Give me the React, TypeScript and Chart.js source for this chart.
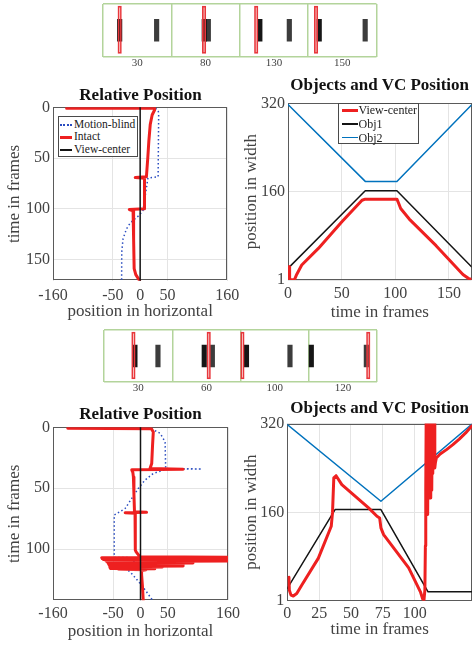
import React, { useEffect, useRef } from 'react';
import { Chart, registerables } from 'chart.js';

Chart.register(...registerables);

const SERIF = '"Liberation Serif", "Times New Roman", Times, serif';
Chart.defaults.font.family = SERIF;

const TXT = '#424242';
const GRID = '#e4e4e4';
const BOX = '#5a5a5a';
const RED = '#ee2020';
const BLUE_DOT = '#2a4cc0';
const OBJ2_BLUE = '#0072bd';
const BLACK = '#141414';
const GREEN = '#b3d49b';

// ================= DATA =================
// Frame strips: object positions (0..320 within each frame)
const FRAME_WIDTH = 320;
const stripTopLabels = ['30', '80', '130', '150'];
const stripTopViewCenter = [78, 153, 77, 37];
const stripTopObj1 = [78, 154, 94, 52];
const stripTopObj2 = [251, 173, 232, 267];
const stripBottomLabels = ['30', '60', '100', '120'];
const stripBottomViewCenter = [138, 171, 9, 279];
const stripBottomObj1 = [145, 150, 28, 12];
const stripBottomObj2 = [253, 188, 232, 270];

// Shared ticks
const relTicksX = [-160, -50, 0, 50, 160];
const relTicksT = [0, 50, 100, 150];
const posTicksW = [1, 160, 320];
const pos1TicksT = [0, 50, 100, 150];
const pos2TicksT = [0, 25, 50, 75, 100];

// Sequence 1: relative position (x: position in horizontal, t: time in frames)
const rel1IntactT = [1, 1, 2.7, 7.6, 17, 33, 50, 68.5, 69.3, 70, 100, 100.8, 102, 130, 159, 165, 171];
const rel1IntactX = [-135, 26, 26.5, 22, 18.5, 16, 14, 11.5, -9, 8, 8, -20, -13, -12, -11, -8, -1];
const rel1BlindT = [1, 3, 6, 68.5, 69.7, 85, 101.7, 106.6, 111.5, 114.8, 119.8, 129.6, 142.7, 171];
const rel1BlindX = [28, 33, 34, 33, 14.3, 10, 5.2, -2, -13, -19, -25, -31.4, -33.8, -34];
const rel1CenterT = [0, 171];
const rel1CenterX = [0, 0];

// Sequence 1: objects and view-center positions
const pos1VCT = [1, 1.5, 5.9, 8.1, 12.8, 28.3, 50.2, 69, 72, 101.5, 103, 105, 113, 138, 163, 168, 171];
const pos1VCW = [25, 2, 1, 11, 28, 58, 106, 145, 147, 147, 140, 130, 111, 63, 11, 4, 2];
const pos1Obj1T = [0, 72, 101.5, 171];
const pos1Obj1W = [22, 162, 162, 25];
const pos1Obj2T = [0, 72, 101.5, 171];
const pos1Obj2W = [318, 179, 179, 317];

// Sequence 2: relative position
const rel2IntactT = [0.8, 1.1, 3.8, 15, 29.8, 33.9, 34.4, 34.9, 37, 40.7, 55, 69.4, 69.8, 70.2, 70.6, 85, 100.8, 102.2, 106.3,
  106.6, 107.0, 107.4, 107.8, 108.2, 108.6, 109.0, 109.4, 109.8, 110.2, 110.6, 111.0, 111.4, 111.8, 112.2, 112.6, 113.0,
  113.4, 113.8, 114.2, 114.6, 115.0, 115.4, 115.8, 116.2, 116.6, 117.0, 117.6, 121, 130, 142];
const rel2IntactX = [-133, 20, 23.4, 22, 20.5, 17.4, 78, -16, -14, -13, -12, -11, 11, -28, -10, -10, -9, -8, -1,
  165, -71, 165, -70, 165, -68, 165, -64, 165, -62, 96, -60, 96, -59, 78, -58, 78,
  -57, 78, -56, 40, -56, 26, -55, 26, -40, 10, 2, 2, 3.5, 5];
const rel2BlindT = [1.1, 5, 12, 33.9, 34.2, 34.5, 38, 43.4, 50.2, 58.4, 66.6, 70.7, 72, 106.8, 107.1, 112, 116, 118.6, 128, 135, 142];
const rel2BlindX = [20, 36, 45, 46, 112, 46, 23, 8, -4, -16, -28, -43, -48, -48, -1, -20, -28, -19, -1, 11, 22];
const rel2CenterT = [0, 142];
const rel2CenterX = [0, 0];

// Sequence 2: objects and view-center positions
const pos2VCT = [1.3, 1.6, 2.9, 4.7, 7.4, 11.3, 24.4, 34.5, 35.5, 36.5, 38.3, 42.8, 63.8, 70.4, 72.5, 73.5, 75.6, 95.3, 104.5, 106.3,
  107.3, 108, 108.4, 108.7, 109.0, 109.4, 109.8, 110.2, 110.6, 111.0, 111.4, 111.8, 112.2, 112.6, 113.0,
  113.4, 113.8, 114.2, 114.6, 115.0, 115.4, 115.8, 116.3, 117, 120, 125, 130, 135, 140, 145];
const pos2VCW = [43, 20, 11, 9.5, 14, 29, 77.6, 135, 160, 222, 226, 210, 168, 153, 150, 132, 120, 60, 17, 4,
  2, 20, 100, 200, 320, 156, 320, 156, 320, 190, 320, 186, 320, 186, 320,
  200, 320, 230, 320, 240, 320, 240, 250, 258, 265, 273, 282, 292, 303, 316];
const pos2Obj1T = [0, 37.5, 73.5, 110.5, 145];
const pos2Obj1W = [23, 165, 165, 17, 17];
const pos2Obj2T = [0, 73.5, 145];
const pos2Obj2W = [318, 180, 319];

// ================= HELPERS =================
type Pt = { x: number; y: number };
const zip = (xs: number[], ys: number[]): Pt[] => xs.map((x, i) => ({ x, y: ys[i] }));

const boxPlugin = {
  id: 'axesBox',
  beforeDatasetsDraw(chart: any) {
    const { ctx, chartArea: a } = chart;
    ctx.save();
    ctx.strokeStyle = BOX;
    ctx.lineWidth = 1;
    ctx.strokeRect(Math.round(a.left) + 0.5, Math.round(a.top) + 0.5, Math.round(a.right - a.left) - 1, Math.round(a.bottom - a.top) - 1);
    ctx.restore();
  },
};

const line = (data: Pt[], color: string, width: number, order: number, dash: number[] = []) => ({
  data,
  borderColor: color,
  backgroundColor: color,
  borderWidth: width,
  borderDash: dash,
  borderCapStyle: dash.length ? 'butt' : 'round',
  borderJoinStyle: 'round',
  showLine: true,
  pointRadius: 0,
  pointHoverRadius: 0,
  tension: 0,
  fill: false,
  order,
  clip: 0,
});

interface MainOpts {
  datasets: any[];
  xMin: number; xMax: number; xTicks: number[];
  yMin: number; yMax: number; yTicks: number[];
  reverseY: boolean;
  xTitle: string; yTitle: string;
  padTop: number; padRight: number;
  yWidth: number; xHeight: number;
  xTickPad: number; xTitlePad: number; yTitlePad: number;
}

function makeMainConfig(o: MainOpts): any {
  const tickFont = { family: SERIF, size: 16, lineHeight: 1.2 };
  const titleFont = { family: SERIF, size: 17, lineHeight: 1.2 };
  return {
    type: 'scatter',
    data: { datasets: o.datasets },
    options: {
      animation: false,
      responsive: false,
      maintainAspectRatio: false,
      events: [],
      layout: { padding: { left: 0, top: o.padTop, right: o.padRight, bottom: 0 } },
      plugins: { legend: { display: false }, tooltip: { enabled: false }, title: { display: false } },
      scales: {
        x: {
          type: 'linear', position: 'bottom', min: o.xMin, max: o.xMax,
          afterBuildTicks: (s: any) => { s.ticks = o.xTicks.map((value) => ({ value })); },
          afterFit: (s: any) => { s.height = o.xHeight; },
          ticks: { autoSkip: false, maxRotation: 0, padding: o.xTickPad, color: TXT, font: tickFont, callback: (v: any) => String(v) },
          grid: { color: GRID, lineWidth: 1, drawTicks: false },
          border: { display: false },
          title: { display: true, text: o.xTitle, color: TXT, font: titleFont, padding: { top: 0, bottom: o.xTitlePad } },
        },
        y: {
          type: 'linear', position: 'left', min: o.yMin, max: o.yMax, reverse: o.reverseY,
          afterBuildTicks: (s: any) => { s.ticks = o.yTicks.map((value) => ({ value })); },
          afterFit: (s: any) => { s.width = o.yWidth; },
          ticks: { autoSkip: false, padding: 3, color: TXT, font: tickFont, callback: (v: any) => String(v) },
          grid: { color: GRID, lineWidth: 1, drawTicks: false },
          border: { display: false },
          title: { display: true, text: o.yTitle, color: TXT, font: titleFont, padding: { top: o.yTitlePad, bottom: 0 } },
        },
      },
    },
    plugins: [boxPlugin],
  };
}

function makeStripConfig(labels: string[], vc: number[], o1: number[], o2: number[], pad: any): any {
  const frames = labels.length;
  const total = frames * FRAME_WIDTH;
  const place = (arr: number[]) => arr.map((v, i) => i * FRAME_WIDTH + v);
  return {
    type: 'bar',
    data: {
      datasets: [
        { xAxisID: 'x', yAxisID: 'y', data: place(vc).map((x) => ({ x, y: [0.06, 0.96] })), backgroundColor: 'rgba(238,60,60,0.22)', borderColor: '#e8383d', borderWidth: 1, borderSkipped: false, barThickness: 3.5, grouped: false, order: 0 },
        { xAxisID: 'x', yAxisID: 'y', data: place(o1).map((x) => ({ x, y: [0.29, 0.71] })), backgroundColor: '#161616', borderWidth: 0, barThickness: 4.5, grouped: false, order: 1 },
        { xAxisID: 'x', yAxisID: 'y', data: place(o2).map((x) => ({ x, y: [0.29, 0.71] })), backgroundColor: '#3c3c3c', borderWidth: 0, barThickness: 4.5, grouped: false, order: 2 },
      ],
    },
    options: {
      animation: false,
      responsive: false,
      events: [],
      layout: { padding: pad },
      plugins: { legend: { display: false }, tooltip: { enabled: false } },
      scales: {
        x: {
          axis: 'x', type: 'linear', position: 'bottom', min: 0, max: total, offset: false,
          grid: { color: GREEN, lineWidth: 1.5, drawTicks: false, offset: false },
          border: { display: false },
          ticks: { display: false },
          afterBuildTicks: (s: any) => { s.ticks = Array.from({ length: frames + 1 }, (_, i) => ({ value: i * FRAME_WIDTH })); },
          afterFit: (s: any) => { s.height = 0; },
        },
        frameLabel: {
          axis: 'x', type: 'linear', position: 'bottom', min: 0, max: total, offset: false,
          grid: { display: false, drawTicks: false, offset: false },
          border: { display: false },
          ticks: { padding: 0, color: TXT, font: { family: SERIF, size: 11, lineHeight: 1.2 }, autoSkip: false, maxRotation: 0, callback: (_v: any, i: number) => labels[i] },
          afterBuildTicks: (s: any) => { s.ticks = labels.map((_, i) => ({ value: i * FRAME_WIDTH + FRAME_WIDTH / 2 })); },
          afterFit: (s: any) => { s.height = 14; },
        },
        y: {
          type: 'linear', position: 'left', min: 0, max: 1,
          grid: { color: GREEN, lineWidth: 1.5, drawTicks: false },
          border: { display: false },
          ticks: { display: false },
          afterBuildTicks: (s: any) => { s.ticks = [{ value: 0 }, { value: 1 }]; },
          afterFit: (s: any) => { s.width = 0; },
        },
      },
    },
  };
}

function ChartCanvas({ left, top, width, height, makeConfig }: { left: number; top: number; width: number; height: number; makeConfig: () => any }) {
  const ref = useRef<HTMLCanvasElement>(null);
  useEffect(() => {
    const chart = new Chart(ref.current as HTMLCanvasElement, makeConfig());
    return () => chart.destroy();
  }, []);
  return (
    <canvas ref={ref} width={width} height={height}
      style={{ position: 'absolute', left, top, width, height, display: 'block' }} />
  );
}

function Title({ center, top, text }: { center: number; top: number; text: string }) {
  return (
    <div style={{ position: 'absolute', left: center - 150, top, width: 300, textAlign: 'center', font: `bold 17px ${SERIF}`, lineHeight: '20px', color: '#111', whiteSpace: 'nowrap' }}>
      {text}
    </div>
  );
}

interface LegendRow { label: string; top: number; swatch: React.CSSProperties; thickness: number }
function Legend({ left, top, width, height, fontSize, swLeft, swWidth, textLeft, rows }: { left: number; top: number; width: number; height: number; fontSize: number; swLeft: number; swWidth: number; textLeft: number; rows: LegendRow[] }) {
  return (
    <div style={{ position: 'absolute', left, top, width, height, boxSizing: 'border-box', border: '1px solid #4a4a4a', background: '#fff' }}>
      {rows.map((r) => (
        <React.Fragment key={r.label}>
          <div style={{ position: 'absolute', left: swLeft - 1, top: r.top - 1 + 6.6 - r.thickness / 2, width: swWidth, height: r.thickness, ...r.swatch }} />
          <div style={{ position: 'absolute', left: textLeft - 1, top: r.top - 1, height: 13, lineHeight: '13px', font: `${fontSize}px ${SERIF}`, color: '#222', whiteSpace: 'nowrap' }}>{r.label}</div>
        </React.Fragment>
      ))}
    </div>
  );
}

// ================= APP =================
export default function App() {
  const rel1 = () => makeMainConfig({
    datasets: [
      line(zip(rel1CenterX, rel1CenterT), BLACK, 1.5, 0),
      line(zip(rel1IntactX, rel1IntactT), RED, 3, 1),
      line(zip(rel1BlindX, rel1BlindT), BLUE_DOT, 1.5, 2, [1.5, 2.5]),
    ],
    xMin: -160, xMax: 160, xTicks: relTicksX, yMin: 0, yMax: 171, yTicks: relTicksT, reverseY: true,
    xTitle: 'position in horizontal', yTitle: 'time in frames',
    padTop: 29.3, padRight: 17, yWidth: 53, xHeight: 47.3, xTickPad: 5.7, xTitlePad: 6.3, yTitlePad: 4.7,
  });
  const pos1 = () => makeMainConfig({
    datasets: [
      line(zip(pos1VCT, pos1VCW), RED, 3, 0),
      line(zip(pos1Obj1T, pos1Obj1W), BLACK, 1.5, 1),
      line(zip(pos1Obj2T, pos1Obj2W), OBJ2_BLUE, 1.5, 2),
    ],
    xMin: 0, xMax: 171, xTicks: pos1TicksT, yMin: 1, yMax: 320, yTicks: posTicksW, reverseY: false,
    xTitle: 'time in frames', yTitle: 'position in width',
    padTop: 33.3, padRight: 3.5, yWidth: 53, xHeight: 48, xTickPad: 4.4, xTitlePad: 5.1, yTitlePad: 6.3,
  });
  const rel2 = () => makeMainConfig({
    datasets: [
      line(zip(rel2CenterX, rel2CenterT), BLACK, 1.5, 0),
      line(zip(rel2IntactX, rel2IntactT), RED, 3, 1),
      line(zip(rel2BlindX, rel2BlindT), BLUE_DOT, 1.5, 2, [1.5, 2.5]),
    ],
    xMin: -160, xMax: 160, xTicks: relTicksX, yMin: 0, yMax: 142, yTicks: relTicksT.slice(0, 3), reverseY: true,
    xTitle: 'position in horizontal', yTitle: 'time in frames',
    padTop: 32.3, padRight: 17, yWidth: 53, xHeight: 45.7, xTickPad: 3.8, xTitlePad: 4.3, yTitlePad: 4.7,
  });
  const pos2 = () => makeMainConfig({
    datasets: [
      line(zip(pos2VCT, pos2VCW), RED, 3, 0),
      line(zip(pos2Obj1T, pos2Obj1W), BLACK, 1.5, 1),
      line(zip(pos2Obj2T, pos2Obj2W), OBJ2_BLUE, 1.5, 2),
    ],
    xMin: 0, xMax: 145, xTicks: pos2TicksT, yMin: 1, yMax: 320, yTicks: posTicksW, reverseY: false,
    xTitle: 'time in frames', yTitle: 'position in width',
    padTop: 28.5, padRight: 3, yWidth: 52.3, xHeight: 45.3, xTickPad: 3.4, xTitlePad: 5.9, yTitlePad: 6.3,
  });
  const strip1 = () => makeStripConfig(stripTopLabels, stripTopViewCenter, stripTopObj1, stripTopObj2, { left: 3, right: 3.5, top: 4, bottom: 1.5 });
  const strip2 = () => makeStripConfig(stripBottomLabels, stripBottomViewCenter, stripBottomObj1, stripBottomObj2, { left: 4, right: 3, top: 4, bottom: 2 });

  const dotted: React.CSSProperties = { borderTop: `2px dotted ${BLUE_DOT}`, height: 0 };

  return (
    <div style={{ position: 'fixed', left: 0, top: 0, width: 475, height: 646, background: '#fff', overflow: 'hidden' }}>
      <ChartCanvas left={100} top={0} width={280} height={72} makeConfig={strip1} />
      <ChartCanvas left={0} top={78} width={245} height={250} makeConfig={rel1} />
      <ChartCanvas left={235} top={70} width={240} height={258} makeConfig={pos1} />
      <ChartCanvas left={100} top={326} width={280} height={72} makeConfig={strip2} />
      <ChartCanvas left={0} top={395} width={245} height={251} makeConfig={rel2} />
      <ChartCanvas left={235} top={395} width={240} height={251} makeConfig={pos2} />

      <Title center={140.5} top={85} text="Relative Position" />
      <Title center={379.7} top={75} text="Objects and VC Position" />
      <Title center={140.5} top={404} text="Relative Position" />
      <Title center={379.7} top={398} text="Objects and VC Position" />

      <Legend left={58} top={116} width={80} height={41} fontSize={11.5} swLeft={1.5} swWidth={12.5} textLeft={16}
        rows={[
          { label: 'Motion-blind', top: 2.4, swatch: dotted, thickness: 2 },
          { label: 'Intact', top: 14.4, swatch: { background: RED }, thickness: 3 },
          { label: 'View-center', top: 27.4, swatch: { background: BLACK }, thickness: 1.5 },
        ]} />
      <Legend left={338} top={103} width={81} height={41} fontSize={12} swLeft={4} swWidth={16} textLeft={20.5}
        rows={[
          { label: 'View-center', top: 0.4, swatch: { background: RED }, thickness: 3 },
          { label: 'Obj1', top: 14.4, swatch: { background: BLACK }, thickness: 1.5 },
          { label: 'Obj2', top: 27.7, swatch: { background: OBJ2_BLUE }, thickness: 1.5 },
        ]} />
    </div>
  );
}
